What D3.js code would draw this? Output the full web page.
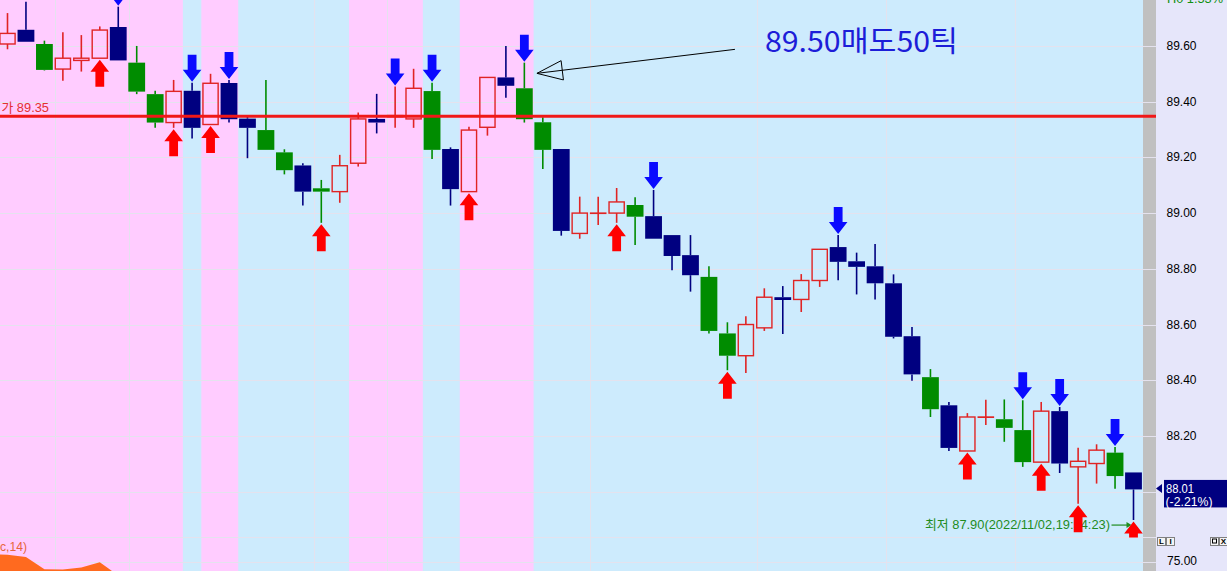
<!DOCTYPE html>
<html><head><meta charset="utf-8">
<script src="https://cdn.jsdelivr.net/npm/d3@7"></script>
<style>html,body{margin:0;padding:0;overflow:hidden;background:#e6e6fa}svg{display:block}</style>
</head><body><svg id="c" width="1227" height="571"></svg>
<script>
// ---------------- DATA ----------------
const opens  = [89.609,89.660,89.609,89.519,89.550,89.558,89.670,89.542,89.429,89.327,
                89.441,89.320,89.469,89.341,89.300,89.220,89.173,89.091,89.079,89.181,
                89.340,89.348,89.340,89.440,89.232,89.079,89.310,89.489,89.450,89.328,
                89.232,88.929,89.002,89.002,89.031,88.991,88.923,88.851,88.773,88.570,
                88.490,88.590,88.700,88.692,88.760,88.880,88.829,88.811,88.750,88.560,
                88.413,88.312,88.148,88.270,88.262,88.223,88.108,88.291,88.091,88.103,
                88.142,88.071];
const highs  = [89.720,89.761,89.621,89.651,89.641,89.672,89.743,89.602,89.441,89.480,
                89.470,89.502,89.480,89.349,89.480,89.231,89.181,89.121,89.211,89.363,
                89.430,89.456,89.520,89.470,89.238,89.312,89.489,89.602,89.542,89.346,
                89.232,89.061,89.061,89.092,89.059,89.085,88.923,88.923,88.811,88.610,
                88.632,88.732,88.740,88.783,88.872,88.923,88.860,88.891,88.782,88.593,
                88.442,88.324,88.284,88.332,88.333,88.330,88.324,88.306,88.160,88.172,
                88.162,88.071];
const lows   = [89.590,89.617,89.514,89.477,89.510,89.558,89.550,89.429,89.308,89.308,
                89.270,89.320,89.327,89.199,89.229,89.141,89.029,88.967,89.039,89.169,
                89.288,89.308,89.308,89.196,89.029,89.079,89.280,89.416,89.327,89.160,
                88.921,88.910,88.959,88.967,88.887,88.910,88.797,88.720,88.570,88.438,
                88.428,88.579,88.568,88.647,88.737,88.761,88.710,88.692,88.552,88.400,
                88.270,88.148,88.148,88.241,88.181,88.091,88.108,88.069,87.959,88.031,
                88.012,87.900];
const closes = [89.647,89.617,89.516,89.558,89.558,89.659,89.550,89.438,89.327,89.439,
                89.308,89.468,89.339,89.308,89.229,89.156,89.079,89.079,89.172,89.340,
                89.327,89.352,89.450,89.229,89.088,89.300,89.489,89.459,89.339,89.229,
                88.938,89.002,89.002,89.042,88.989,88.910,88.848,88.779,88.579,88.490,
                88.602,88.700,88.690,88.760,88.872,88.827,88.809,88.750,88.558,88.423,
                88.298,88.159,88.270,88.270,88.231,88.108,88.291,88.103,88.111,88.151,
                88.058,88.010];
// candle kind: u = hollow (up), d = navy (down), g = green (down)
const kinds  = ["u","d","g","u","u","u","d","g","g","u",
                "d","u","d","d","g","g","d","g","u","u",
                "d","u","u","g","d","u","u","d","g","g",
                "d","u","u","u","g","d","d","d","g","g",
                "u","u","d","u","u","d","d","d","d","d",
                "g","d","u","u","g","g","u","d","u","u",
                "g","d"];
const pinkRanges  = [[0,9],[11,12],[19,22],[25,28]];
const buySignals  = [5,9,11,17,25,33,39,52,56,58,61];
const sellSignals = [6,10,12,21,23,28,35,45,55,57,60];
const timeGridIdx = [3,7,17,21,32,41,48,55];
const priceTicks  = [89.60,89.40,89.20,89.00,88.80,88.60,88.40,88.20,88.00];
const refPrice = 89.35, refLabel = "가 89.35";
const lastPrice = 88.01, lastPriceText = "88.01", lastChangeText = "(-2.21%)";
const lowPrice = 87.90, lowText = "최저 87.90(2022/11/02,19:54:23)";
const annIndex = 28, annPrice = 89.50, annText = "89.50매도50틱";
const oscStart = -1;
const oscValues = [83.5,82.8,80.5,68.2,68.0,70.0,75.3,62.0,55.0];
const oscTicks = [75.00];
const oscLabel = "c,14)";
const topText = "H0  1.53%";

// ---------------- LAYOUT ----------------
const W = 1227, H = 571, plotR = 1143, stripR = 1156, paneSep = 537.5;
const svg = d3.select("#c");
const x  = d3.scaleLinear().domain([0, opens.length - 1]).range([7.5, 1133.5]);
const y  = d3.scaleLinear().domain([88.20, 89.60]).range([436.5, 46.5]);
const yo = d3.scaleLinear().domain([75, 100]).range([562.5, 537.5]);
const step = x(1) - x(0);
const FONT = "'Liberation Sans','Noto Sans CJK KR',sans-serif";

const defs = svg.append("defs");
defs.append("clipPath").attr("id","pp").append("rect").attr("x",0).attr("y",0).attr("width",plotR).attr("height",paneSep);
defs.append("clipPath").attr("id","op").append("rect").attr("x",0).attr("y",paneSep).attr("width",plotR).attr("height",H-paneSep);

// axis panel
svg.append("rect").attr("x",0).attr("y",0).attr("width",W).attr("height",H).attr("fill","#e6e6fa");
// plot background (blue state) + pink state bands
svg.append("rect").attr("x",0).attr("y",0).attr("width",plotR).attr("height",H).attr("fill","#cdebfd");
svg.append("g").selectAll("rect").data(pinkRanges).join("rect")
  .attr("x", d => Math.max(0, x(d[0]) - step/2))
  .attr("y", 0)
  .attr("width", d => x(d[1]) + step/2 - Math.max(0, x(d[0]) - step/2))
  .attr("height", H).attr("fill", "#ffccff");
// gray strip
svg.append("rect").attr("x",plotR).attr("y",0).attr("width",stripR-plotR).attr("height",H).attr("fill","#c0c0c0");

// gridlines
const grid = svg.append("g").attr("stroke","#e4e2ee").attr("stroke-width",1).attr("shape-rendering","crispEdges");
grid.selectAll("line.h").data(priceTicks).join("line").attr("class","h")
  .attr("x1",0).attr("x2",stripR).attr("y1",d=>Math.floor(y(d))+0.5).attr("y2",d=>Math.floor(y(d))+0.5);
grid.append("line").attr("x1",0).attr("x2",stripR).attr("y1",Math.floor(paneSep)+0.5).attr("y2",Math.floor(paneSep)+0.5);
grid.selectAll("line.o").data(oscTicks).join("line").attr("class","o")
  .attr("x1",0).attr("x2",stripR).attr("y1",d=>Math.floor(yo(d))+0.5).attr("y2",d=>Math.floor(yo(d))+0.5);
grid.selectAll("line.v").data(timeGridIdx).join("line").attr("class","v")
  .attr("x1",d=>Math.round(x(d)-step/2+1.5)+0.5).attr("x2",d=>Math.round(x(d)-step/2+1.5)+0.5)
  .attr("y1",0).attr("y2",H);

// oscillator area (lower pane)
const oscArea = d3.area().x((d,i)=>x(i+oscStart)).y0(H+40).y1(d=>yo(d));
svg.append("path").attr("clip-path","url(#op)").datum(oscValues).attr("d",oscArea).attr("fill","#ff6a1f");
svg.append("text").attr("x",0).attr("y",yo(75)-12).attr("font-family",FONT).attr("font-size",12.5)
  .attr("fill","#e8643c").attr("textLength",27).attr("lengthAdjust","spacingAndGlyphs").text(oscLabel);

// low info label (drawn below signal arrows)
const lowG = svg.append("g");
lowG.append("text").attr("x", x(opens.length-1) - 23.5).attr("y", y(lowPrice) + 9).attr("text-anchor","end")
  .attr("font-family",FONT).attr("font-size",13).attr("fill","#1f8c1f")
  .attr("textLength",185).attr("lengthAdjust","spacingAndGlyphs").text(lowText);
lowG.append("line").attr("x1",x(opens.length-1)-22).attr("x2",x(opens.length-1)-4)
  .attr("y1",y(lowPrice)+5).attr("y2",y(lowPrice)+5).attr("stroke","#1f8c1f").attr("stroke-width",1.2);
lowG.append("path").attr("d",`M${x(opens.length-1)-2},${y(lowPrice)+5} l-5,-3 l0,6 Z`).attr("fill","#1f8c1f");

// candles
const idx = d3.range(opens.length);
const col = k => k === "u" ? "#e02424" : (k === "d" ? "#000080" : "#008c00");
const cg = svg.append("g").attr("clip-path","url(#pp)");
cg.selectAll("line.wu").data(idx).join("line").attr("class","wu")
  .attr("x1",i=>x(i)).attr("x2",i=>x(i))
  .attr("y1",i=>y(highs[i])).attr("y2",i=>y(Math.max(opens[i],closes[i])))
  .attr("stroke",i=>col(kinds[i])).attr("stroke-width",1.6);
cg.selectAll("line.wl").data(idx).join("line").attr("class","wl")
  .attr("x1",i=>x(i)).attr("x2",i=>x(i))
  .attr("y1",i=>y(Math.min(opens[i],closes[i]))).attr("y2",i=>y(lows[i]))
  .attr("stroke",i=>col(kinds[i])).attr("stroke-width",1.6);
const filled = idx.filter(i => kinds[i] !== "u");
cg.selectAll("rect.f").data(filled).join("rect").attr("class","f")
  .attr("x",i=>x(i)-8.4).attr("width",16.8)
  .attr("y",i=>y(Math.max(opens[i],closes[i])))
  .attr("height",i=>Math.max(2, y(Math.min(opens[i],closes[i])) - y(Math.max(opens[i],closes[i]))))
  .attr("fill",i=>col(kinds[i]));
const hollow = idx.filter(i => kinds[i] === "u");
cg.selectAll("rect.h").data(hollow).join("rect").attr("class","h")
  .attr("x",i=>x(i)-7.6).attr("width",15.2)
  .attr("y",i=>y(Math.max(opens[i],closes[i])))
  .attr("height",i=>Math.max(0.3, y(Math.min(opens[i],closes[i])) - y(Math.max(opens[i],closes[i]))))
  .attr("fill","none").attr("stroke","#e02424").attr("stroke-width",1.4);

// reference line
svg.append("line").attr("x1",0).attr("x2",stripR).attr("y1",y(refPrice)).attr("y2",y(refPrice))
  .attr("stroke","#f01818").attr("stroke-width",3);
svg.append("text").attr("x",1.5).attr("y",y(refPrice)-4.5).attr("font-family",FONT).attr("font-size",13)
  .attr("fill","#e33030").attr("textLength",47.5).attr("lengthAdjust","spacingAndGlyphs").text(refLabel);

// signal arrows
const downArrow = (cx, t) => `M${cx-4.4},${t-27} L${cx+4.4},${t-27} L${cx+4.4},${t-12} L${cx+9.3},${t-12} L${cx},${t} L${cx-9.3},${t-12} L${cx-4.4},${t-12} Z`;
const upArrow   = (cx, t) => `M${cx-4.4},${t+27} L${cx+4.4},${t+27} L${cx+4.4},${t+12} L${cx+9.3},${t+12} L${cx},${t} L${cx-9.3},${t+12} L${cx-4.4},${t+12} Z`;
const ag = svg.append("g").attr("clip-path","url(#pp)");
ag.selectAll("path.s").data(sellSignals).join("path").attr("class","s")
  .attr("d",i=>downArrow(x(i), y(highs[i]) - 1)).attr("fill","#0a0aff");
ag.selectAll("path.b").data(buySignals).join("path").attr("class","b")
  .attr("d",i=>upArrow(x(i), y(lows[i]) + 1.5)).attr("fill","#ff0000");

// annotation
const tipX = x(annIndex) + 12.6, tipY = y(annPrice) - 1;
const sX = x(annIndex) + 210.6, sY = y(annPrice) - 25;
const L = Math.hypot(sX - tipX, sY - tipY), dx = (sX - tipX)/L, dy = (sY - tipY)/L;
const bx = tipX + 25.5*dx, by = tipY + 25.5*dy, px = -dy, py = dx;
svg.append("line").attr("x1",sX).attr("y1",sY).attr("x2",tipX).attr("y2",tipY).attr("stroke","#000").attr("stroke-width",1);
svg.append("path").attr("d",`M${tipX},${tipY} L${bx+9.7*px},${by+9.7*py} L${bx-9.7*px},${by-9.7*py} Z`)
  .attr("fill","none").attr("stroke","#000").attr("stroke-width",1);
svg.append("text").attr("x", x(annIndex) + 240.6).attr("y", y(annPrice) - 22.5)
  .attr("font-family","'Noto Sans CJK KR','Liberation Sans',sans-serif").attr("font-size",29)
  .attr("fill","#1d1dd8").attr("textLength",193).attr("lengthAdjust","spacingAndGlyphs").text(annText);

// price axis labels (the one under the last-price box is hidden by it)
const ly = y(lastPrice);
const ax = svg.append("g").attr("font-family",FONT).attr("font-size",13).attr("fill","#000");
ax.selectAll("text.p").data(priceTicks.filter(d => Math.abs(y(d) - ly) > 16)).join("text").attr("class","p")
  .attr("x",1166.5).attr("y",d=>y(d)+3.5).attr("textLength",30).attr("lengthAdjust","spacingAndGlyphs")
  .text(d=>d.toFixed(2));
ax.selectAll("text.o").data(oscTicks).join("text").attr("class","o")
  .attr("x",1167).attr("y",d=>yo(d)+2).attr("textLength",30).attr("lengthAdjust","spacingAndGlyphs")
  .text(d=>d.toFixed(2));
svg.append("text").attr("x",1167).attr("y",3).attr("font-family",FONT).attr("font-size",13)
  .attr("fill","#109010").attr("textLength",56).attr("lengthAdjust","spacingAndGlyphs").text(topText);

// last price box
svg.append("path").attr("d",`M${stripR},${ly-1} L${stripR+6},${ly-5.5} L${stripR+6},${ly+3.5} Z`).attr("fill","#000080");
svg.append("rect").attr("x",1164).attr("y",ly-9.5).attr("width",W-1164).attr("height",27.5).attr("fill","#000080");
svg.append("text").attr("x",1166).attr("y",ly+3.5).attr("font-family",FONT).attr("font-size",12.5).attr("fill","#fff")
  .attr("textLength",28).attr("lengthAdjust","spacingAndGlyphs").text(lastPriceText);
svg.append("text").attr("x",1165.5).attr("y",ly+16.8).attr("font-family",FONT).attr("font-size",12.5).attr("fill","#fff")
  .attr("textLength",47).attr("lengthAdjust","spacingAndGlyphs").text(lastChangeText);

// small pane buttons
const btn = svg.append("g").attr("font-family",FONT).attr("font-size",8).attr("font-weight","bold").attr("fill","#000");
[["L",1157],["I",1166],["□",1210],["X",1219]].forEach(([t,bx0])=>{
  btn.append("rect").attr("x",bx0+0.5).attr("y",paneSep-0.5).attr("width",8).attr("height",8)
    .attr("fill","#f4f4f4").attr("stroke","#808080").attr("stroke-width",1).attr("shape-rendering","crispEdges");
  btn.append("text").attr("x",bx0+4.5).attr("y",paneSep+6.5).attr("text-anchor","middle").text(t==="□"?"":t);
  if (t==="□") btn.append("rect").attr("x",bx0+2.5).attr("y",paneSep+1.5).attr("width",4).attr("height",4)
    .attr("fill","none").attr("stroke","#000").attr("stroke-width",1);
});
</script></body></html>
